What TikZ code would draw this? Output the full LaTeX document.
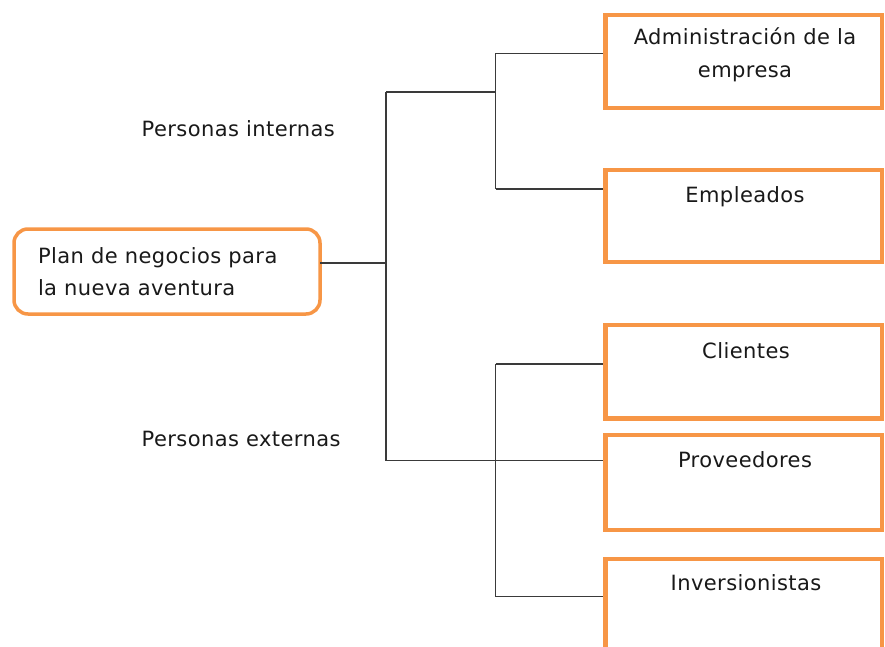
\documentclass[tikz,border=0pt]{standalone}
\usepackage{fontspec}
\setmainfont[LetterSpace=2.0]{DejaVu Sans}
\definecolor{orng}{HTML}{F79646}
\definecolor{lnc}{HTML}{3A3A3A}
\begin{document}
\begin{tikzpicture}[x=1pt,y=-1pt,
  boxn/.style={draw=orng,line width=4.5pt,minimum width=276.5pt,inner sep=0pt,outer sep=0pt,anchor=north west,fill=white},
  planbox/.style={draw=orng,line width=3.5pt,rounded corners=14pt,minimum width=306pt,minimum height=85pt,inner sep=0pt,outer sep=0pt,anchor=north west,fill=white},
  conn/.style={draw=lnc,line width=1.2pt},
  txt/.style={inner sep=0pt,outer sep=0pt,font=\fontsize{21}{32}\selectfont,text=black!90}]
\useasboundingbox (0,0) rectangle (885,647);
\clip (0,0) rectangle (885,647);
% boxes
\node[planbox] (plan) at (14,229) {};
\node[boxn,minimum height=93pt] (admin) at (605.5,15) {};
\node[boxn,minimum height=92pt] (emp) at (605.5,170) {};
\node[boxn,minimum height=93.5pt] (cli) at (605.5,325) {};
\node[boxn,minimum height=95pt] (prov) at (605.5,435) {};
\node[boxn,minimum height=95pt] (inv) at (605.5,559) {};
% junction coordinates
\coordinate (pe) at (plan.east |- 0,263);
\coordinate (j1) at (386,263);
\coordinate (j2) at (386,92);
\coordinate (j3) at (386,460.7);
\coordinate (k1) at (495.7,53.3);
\coordinate (k2) at (495.7,92);
\coordinate (k3) at (495.7,189);
\coordinate (m1) at (495.7,364);
\coordinate (m3) at (495.7,596.7);
\coordinate (a1) at (admin.west |- 0,53.3);
\coordinate (a2) at (emp.west |- 0,189);
\coordinate (a3) at (cli.west |- 0,364);
\coordinate (a4) at (prov.west |- 0,460.7);
\coordinate (a5) at (inv.west |- 0,596.7);
% connectors
\draw[conn] (pe) -- (j1);
\draw[conn] (j2) -- (j3);
\draw[conn] (j2) -- (k2);
\draw[conn] (k1) -- (k3);
\draw[conn] (k1) -- (a1);
\draw[conn] (k3) -- (a2);
\draw[conn] (j3) -- (a4);
\draw[conn] (m1) -- (m3);
\draw[conn] (m1) -- (a3);
\draw[conn] (m3) -- (a5);
% redraw box borders over connector ends
\foreach \b in {admin,emp,cli,prov,inv}{\draw[draw=orng,line width=4.5pt] (\b.north west) rectangle (\b.south east);}
% texts
\node[txt,anchor=base west] (t1a) at (38,263.3) {Plan de negocios para};
\node[txt,anchor=base west] (t1b) at (38,295) {la nueva aventura};
\node[txt,anchor=base] (t2a) at (745,45) {Administración de la};
\node[txt,anchor=base] (t2b) at (745,77.5) {empresa};
\node[txt,anchor=base] (t3) at (745,202.7) {Empleados};
\node[txt,anchor=base] (t4) at (746,358) {Clientes};
\node[txt,anchor=base] (t5) at (745,467.7) {Proveedores};
\node[txt,anchor=base] (t6) at (746,590.7) {Inversionistas};
\node[txt,anchor=base west] (l1) at (141.7,136.7) {Personas internas};
\node[txt,anchor=base west] (l2) at (141.7,446.7) {Personas externas};
\end{tikzpicture}
\end{document}
